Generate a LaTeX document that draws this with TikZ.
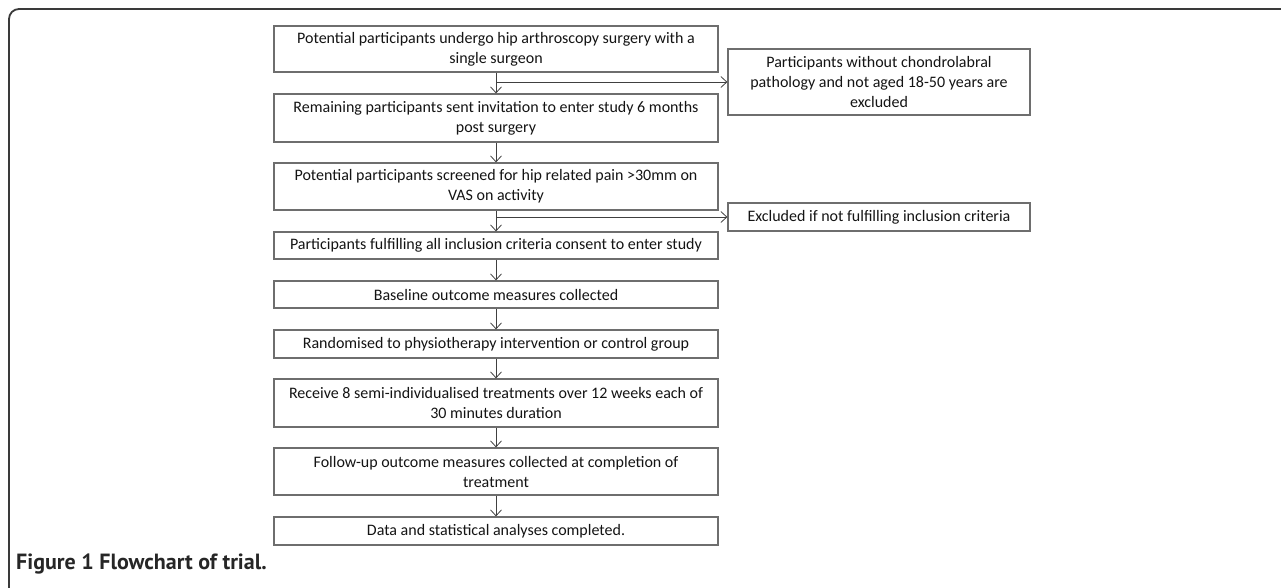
\documentclass[tikz,border=0pt]{standalone}
\usepackage{fontspec}
\setmainfont{Carlito}
\newfontfamily\capfont{PT Sans}
\usetikzlibrary{arrows.meta}
\definecolor{boxgray}{HTML}{6E6E6E}
\definecolor{arrgray}{HTML}{404040}
\definecolor{framegray}{HTML}{3A3A3A}
\tikzset{
  flowbox/.style={draw=boxgray, line width=1.2pt, fill=white, inner sep=0pt, align=center,
    font=\fontsize{16}{20}\selectfont, text=black!92},
  arr/.style={draw=arrgray, line width=0.8pt, -{Straight Barb[length=6pt,width=11pt,line width=0.8pt]}},
}
\begin{document}
\begin{tikzpicture}[x=1pt,y=-1pt]
\useasboundingbox (0,0) rectangle (1281,587);
% outer frame
\draw[framegray, line width=1.8pt, rounded corners=10pt] (1285,9) -- (9,9) -- (9,592);
% main column
\node[flowbox, minimum width=444pt, minimum height=46pt] (b1) at (496,49)
  {Potential participants undergo hip arthroscopy surgery with a\\ single surgeon};
\node[flowbox, minimum width=444pt, minimum height=48pt] (b2) at (496,118)
  {Remaining participants sent invitation to enter study 6 months\\ post surgery};
\node[flowbox, minimum width=444pt, minimum height=47pt] (b3) at (496,186.5)
  {Potential participants screened for hip related pain >30mm on\\ VAS on activity};
\node[flowbox, minimum width=444pt, minimum height=27pt] (b4) at (496,245.5)
  {Participants fulfilling all inclusion criteria consent to enter study};
\node[flowbox, minimum width=444pt, minimum height=27pt] (b5) at (496,294.5)
  {Baseline outcome measures collected};
\node[flowbox, minimum width=444pt, minimum height=28pt] (b6) at (496,344)
  {Randomised to physiotherapy intervention or control group};
\node[flowbox, minimum width=444pt, minimum height=48pt] (b7) at (496,403)
  {Receive 8 semi-individualised treatments over 12 weeks each of\\ 30 minutes duration};
\node[flowbox, minimum width=444pt, minimum height=47pt] (b8) at (496,471.5)
  {Follow-up outcome measures collected at completion of\\ treatment};
\node[flowbox, minimum width=444pt, minimum height=28pt] (b9) at (496,531)
  {Data and statistical analyses completed.};
% side boxes
\node[flowbox, minimum width=302pt, minimum height=66pt] (ea) at (879,82)
  {Participants without chondrolabral\\ pathology and not aged 18-50 years are\\ excluded};
\node[flowbox, minimum width=302pt, minimum height=28pt] (eb) at (879,217)
  {Excluded if not fulfilling inclusion criteria};
% connectors
\draw[arr] (b1) -- (b2);
\draw[arr] (b1.south |- ea.west) -- (ea.west);
\draw[arr] (b2) -- (b3);
\draw[arr] (b3) -- (b4);
\draw[arr] (b3.south |- eb.west) -- (eb.west);
\draw[arr] (b4) -- (b5);
\draw[arr] (b5) -- (b6);
\draw[arr] (b6) -- (b7);
\draw[arr] (b7) -- (b8);
\draw[arr] (b8) -- (b9);
% caption
\node[anchor=base west, inner sep=0pt, font=\capfont\bfseries\fontsize{22}{24}\selectfont, text=black!85] (cap) at (16,569)
  {Figure 1 Flowchart of trial.};
\end{tikzpicture}
\end{document}
